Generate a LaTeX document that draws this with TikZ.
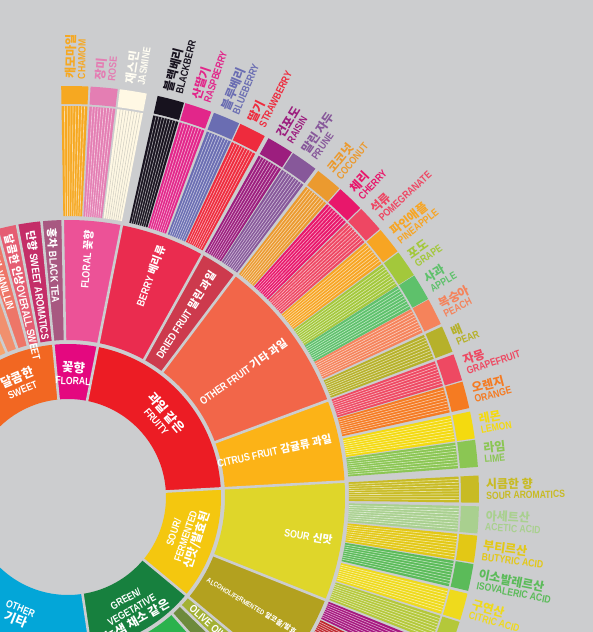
\documentclass[tikz,border=0pt]{standalone}
\usepackage{fontspec}
\setmainfont{Liberation Sans}
\newfontfamily\kr{Noto Sans CJK KR}
\newfontfamily\en[FakeStretch=0.82]{Liberation Sans Bold}
\definecolor{bg}{HTML}{CCCDCF}
% ring 1
\definecolor{r1sweet}{HTML}{F26722}
\definecolor{r1floral}{HTML}{E4087F}
\definecolor{r1fruity}{HTML}{EC1C24}
\definecolor{r1sour}{HTML}{F4C70F}
\definecolor{r1green}{HTML}{17803E}
\definecolor{r1other}{HTML}{03A6D8}
% ring 2
\definecolor{r2brown}{HTML}{F5A56E}
\definecolor{r2vanilla}{HTML}{F1906E}
\definecolor{r2vanillin}{HTML}{EE7668}
\definecolor{r2osweet}{HTML}{E55D72}
\definecolor{r2saroma}{HTML}{C42E68}
\definecolor{r2btea}{HTML}{A85881}
\definecolor{r2floral}{HTML}{EC5297}
\definecolor{r2berry}{HTML}{EA2C4F}
\definecolor{r2dried}{HTML}{CD3A4D}
\definecolor{r2ofruit}{HTML}{F26649}
\definecolor{r2citrus}{HTML}{FCB317}
\definecolor{r2sour}{HTML}{DFD62A}
\definecolor{r2alcohol}{HTML}{B3A11F}
\definecolor{r2olive}{HTML}{A3B135}
\definecolor{r2raw}{HTML}{6D8A3C}
\definecolor{r2greenveg}{HTML}{2BB24D}
\definecolor{r2beany}{HTML}{41A35A}
% ring 3
\definecolor{cham}{HTML}{F6A821}
\definecolor{rose}{HTML}{E47EB3}
\definecolor{jasm}{HTML}{FFF8E4}
\definecolor{bkb}{HTML}{17121E}
\definecolor{rasp}{HTML}{E2268A}
\definecolor{blub}{HTML}{6A6DB2}
\definecolor{strw}{HTML}{EE2B3D}
\definecolor{rais}{HTML}{9C1E7E}
\definecolor{prun}{HTML}{87589A}
\definecolor{coco}{HTML}{EB9A2F}
\definecolor{cher}{HTML}{E8176B}
\definecolor{pome}{HTML}{EE4763}
\definecolor{pine}{HTML}{F7A523}
\definecolor{grap}{HTML}{A3C83B}
\definecolor{appl}{HTML}{5EC16B}
\definecolor{peac}{HTML}{F5835B}
\definecolor{pear}{HTML}{B6B12A}
\definecolor{grfr}{HTML}{EE4962}
\definecolor{oran}{HTML}{F57B22}
\definecolor{lemo}{HTML}{F4DA0F}
\definecolor{lime}{HTML}{8BC653}
\definecolor{sara}{HTML}{C8BB24}
\definecolor{acet}{HTML}{A9D08F}
\definecolor{buty}{HTML}{E3C815}
\definecolor{isov}{HTML}{5BBB59}
\definecolor{citr}{HTML}{EFDA1C}
\definecolor{mali}{HTML}{B4C83A}
\definecolor{winy}{HTML}{A6177F}
\definecolor{whis}{HTML}{C0272D}
\definecolor{ferm}{HTML}{D9A21E}
\definecolor{ovrp}{HTML}{8E7A2A}
\definecolor{jasmtext}{HTML}{FFFDF2}
\definecolor{jasmline}{HTML}{B8B8B0}

\newcommand\wsec[5]{\fill[#5] (#3:#1pt) arc[start angle=#3,end angle=#4,radius=#1pt] -- (#4:#2pt) arc[start angle=#4,end angle=#3,radius=#2pt] -- cycle;}
\newcommand\wsep[3]{\draw[sepline] (#1:#2pt) -- (#1:#3pt);}
\newcommand\wbandc[3]{%
  \pgfmathsetmacro\wa{#1-1.9}\pgfmathsetmacro\wb{#1+1.9}%
  \wsec{281}{391}{\wa}{\wb}{#2}%
  \foreach \k in {1,...,8}{\draw[stripe, draw=#3] ({\wa+\k*3.8/9}:281pt) -- ({\wa+\k*3.8/9}:391pt);}%
  \wsec{393}{411}{\wa}{\wb}{#2}%
}
\newcommand\wband[2]{\wbandc{#1}{#2}{white}}
\newcommand\witemc[7]{%
  \wbandc{#2}{#3}{#7}%
  \node[olabel, text=#6, rotate=#2] (#1) at (#2:418pt) {{\kr\fontsize{12}{13}\selectfont #4}\\{\en #5}};%
}
\newcommand\witem[6]{\witemc{#1}{#2}{#3}{#4}{#5}{#6}{white}}

\tikzset{
  sepline/.style={draw=bg, line width=2.6pt},
  stripe/.style={draw opacity=0.6, line width=0.6pt},
  olabel/.style={anchor=west, inner sep=0pt, align=left, font=\bfseries\fontsize{10.5}{10.5}\selectfont},
  r2out/.style={anchor=east, inner sep=0pt, text=white, font=\bfseries\fontsize{10.8}{11}\selectfont},
  r2in/.style={anchor=west, inner sep=0pt, text=white, font=\bfseries\fontsize{10.8}{11}\selectfont},
  r1lab/.style={inner sep=0pt, text=white, align=center, font=\bfseries\fontsize{10.5}{12.5}\selectfont},
}

\begin{document}
\begin{tikzpicture}[x=1pt,y=1pt]
\useasboundingbox (0,0) rectangle (593,632);
\fill[bg] (0,0) rectangle (593,632);
\clip (0,0) rectangle (593,632);
\begin{scope}[shift={(68,135)}]
% ---------- ring 1
\wsec{98}{153}{95.5}{140}{r1sweet}
\wsec{98}{153}{78.8}{95.5}{r1floral}
\wsec{98}{153}{3.2}{78.8}{r1fruity}
\wsec{98}{153}{-39.7}{3.2}{r1sour}
\wsec{98}{153}{-81.5}{-39.7}{r1green}
\wsec{98}{153}{-140}{-81.5}{r1other}
\foreach \s in {95.5,78.8,3.2,-39.7,-81.5}{\wsep{\s}{96}{155}}
% ---------- ring 2
\wsec{157}{277}{113}{135}{r2brown}
\wsec{157}{277}{108.9}{113}{r2vanilla}
\wsec{157}{277}{104.8}{108.9}{r2vanillin}
\wsec{157}{277}{100.6}{104.8}{r2osweet}
\wsec{157}{277}{95.5}{100.6}{r2saroma}
\wsec{157}{277}{91.1}{95.5}{r2btea}
\wsec{157}{277}{78.8}{91.1}{r2floral}
\wsec{157}{277}{61.0}{78.8}{r2berry}
\wsec{157}{277}{53.0}{61.0}{r2dried}
\wsec{157}{277}{20.4}{53.0}{r2ofruit}
\wsec{157}{277}{3.2}{20.4}{r2citrus}
\wsec{157}{277}{-21.8}{3.2}{r2sour}
\wsec{157}{277}{-39.7}{-21.8}{r2alcohol}
\wsec{157}{277}{-44.0}{-39.7}{r2olive}
\wsec{157}{277}{-48.3}{-44.0}{r2raw}
\wsec{157}{277}{-77}{-48.3}{r2greenveg}
\wsec{157}{277}{-81.5}{-77}{r2beany}
\foreach \s in {113,108.9,104.8,100.6,95.5,91.1,78.8,61.0,53.0,20.4,3.2,-21.8,-39.7,-44.0,-48.3,-77,-81.5}{\wsep{\s}{155}{279}}
% ---------- ring 3
\witem{lcham}{89.05}{cham}{캐모마일}{CHAMOM}{cham}
\witem{lrose}{84.95}{rose}{장미}{ROSE}{rose}
\witemc{ljasm}{80.85}{jasm}{재스민}{JASMINE}{jasmtext}{jasmline}
\witem{lbkb}{75.5}{bkb}{블랙베리}{BLACKBERR}{bkb}
\witem{lrasp}{71.5}{rasp}{산딸기}{RASPBERRY}{rasp}
\witem{lblub}{67.3}{blub}{블루베리}{BLUEBERRY}{blub}
\witem{lstrw}{63.3}{strw}{딸기}{STRAWBERRY}{strw}
\witem{lrais}{58.9}{rais}{건포도}{RAISIN}{rais}
\witem{lprun}{54.9}{prun}{말린 자두}{PRUNE}{prun}
\witem{lcoco}{50.6}{coco}{코코넛}{COCONUT}{coco}
\witem{lcher}{46.6}{cher}{체리}{CHERRY}{cher}
\witem{lpome}{42.6}{pome}{석류}{POMEGRANATE}{pome}
\witem{lpine}{38.6}{pine}{파인애플}{PINEAPPLE}{pine}
\witem{lgrap}{34.6}{grap}{포도}{GRAPE}{grap}
\witem{lappl}{30.7}{appl}{사과}{APPLE}{appl}
\witem{lpeac}{26.8}{peac}{복숭아}{PEACH}{peac}
\witem{lpear}{22.6}{pear}{배}{PEAR}{pear}
\witem{lgrfr}{18.4}{grfr}{자몽}{GRAPEFRUIT}{grfr}
\witem{loran}{14.4}{oran}{오렌지}{ORANGE}{oran}
\witem{llemo}{10.1}{lemo}{레몬}{LEMON}{lemo}
\witem{llime}{6.1}{lime}{라임}{LIME}{lime}
\witem{lsara}{1.1}{sara}{시큼한 향}{SOUR AROMATICS}{sara}
\witem{lacet}{-3.2}{acet}{아세트산}{ACETIC ACID}{acet}
\witem{lbuty}{-7.3}{buty}{부티르산}{BUTYRIC ACID}{buty}
\witem{lisov}{-11.3}{isov}{이소발레르산}{ISOVALERIC ACID}{isov}
\witem{lcitr}{-15.5}{citr}{구연산}{CITRIC ACID}{citr}
\wband{-19.6}{mali}
\wband{-23.8}{winy}
\wband{-27.9}{whis}
\wband{-32.0}{ferm}
\wband{-36.1}{ovrp}
% ---------- ring 1 labels
\node[r1lab, rotate=23] (t1sweet) at (113:124pt) {{\kr\fontsize{12.5}{13}\selectfont 달콤한}\\{\en SWEET}};
\node[r1lab, rotate=-2.5] (t1floral) at (87.5:124pt) {{\kr\fontsize{12.5}{13}\selectfont 꽃향}\\{\en FLORAL}};
\node[r1lab, rotate=-49.5] (t1fruity) at (40.5:124pt) {{\kr\fontsize{12.5}{13}\selectfont 과일 같은}\\{\en FRUITY}};
\node[r1lab, rotate=71.5] (t1sour) at (-18.5:125pt) {{\en SOUR/}\\{\en FERMENTED}\\{\kr\fontsize{12}{13}\selectfont 신맛/발효된}};
\node[r1lab, rotate=29.5] (t1green) at (-60.5:130pt) {{\en GREEN/}\\{\en VEGETATIVE}\\{\kr\fontsize{12}{13}\selectfont 녹색 채소 같은}};
\node[r1lab, rotate=-22] (t1other) at (-113:128pt) {{\en OTHER}\\{\kr\fontsize{12.5}{13}\selectfont 기타}};
% ---------- ring 2 labels
\node[r2in, rotate=-73.15] (t2vanillin) at (106.85:269pt) {{\kr 바닐린} {\en VANILLIN}};
\node[r2in, rotate=-77.3] (t2osweet) at (102.7:269pt) {{\kr 달콤한 인상}{\en OVERALL SWEET}};
\node[r2in, rotate=-81.95] (t2saroma) at (98.05:269pt) {{\kr 단향} {\en SWEET AROMATICS}};
\node[r2in, rotate=-86.5] (t2btea) at (93.5:269pt) {{\kr 홍차} {\en BLACK TEA}};
\node[r2out, rotate=85.5] (t2floral) at (85.5:268pt) {{\en FLORAL} {\kr 꽃향}};
\node[r2out, rotate=69.5] (t2berry) at (69.5:268pt) {{\en BERRY} {\kr 베리류}};
\node[r2out, rotate=57] (t2dried) at (57:268pt) {{\en DRIED FRUIT} {\kr 말린 과일}};
\node[r2out, rotate=35.5] (t2ofruit) at (35.5:268pt) {{\en OTHER FRUIT} {\kr 기타 과일}};
\node[r2out, rotate=12.5] (t2citrus) at (12.5:270pt) {{\en CITRUS FRUIT} {\kr 감귤류 과일}};
\node[r2out, rotate=-9.3] (t2sour) at (-9.3:268pt) {{\en SOUR} {\kr 신맛}};
\node[r2in, rotate=-30.75, font=\bfseries\fontsize{7}{8}\selectfont] (t2alcohol) at (-30.75:162pt) {{\en ALCOHOL/FERMENTED} {\kr 알코올/발효}};
\node[r2in, rotate=-41.85] (t2olive) at (-41.85:165pt) {{\en OLIVE OIL}};
\end{scope}
\end{tikzpicture}
\end{document}
